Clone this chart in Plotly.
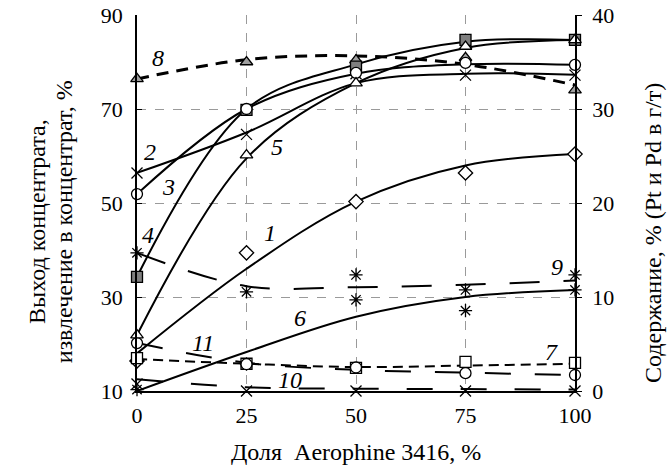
import plotly.graph_objects as go

FONT = "Liberation Serif, Times New Roman, serif"
GRID = "#9a9a9a"
GREY_SQ = "#7f7f7f"
GREY_TRI = "#a0a0a0"

x = [0, 25, 50, 75, 100]

# markers (values in left-axis units)
m1 = [16.4, 39.4, 50.3, 56.4, 60.4]
m2 = [56.4, 64.6, 77.5, 77.2, 77.2]
m3 = [51.9, 70.0, 77.7, 79.8, 79.4]
m4 = [34.3, 69.8, 79.0, 84.7, 84.7]
m5 = [21.9, 60.2, 75.5, 83.3, 84.7]
m6 = [10.3, 15.7, 29.4, 27.1, 31.5]
m7 = [17.0, 15.8, 14.9, 16.2, 16.0]
m8 = [76.4, 80.0, 80.4, 80.9, 74.0]
m9 = [39.4, 31.1, 34.7, 31.5, 34.7]
m10 = [11.5, 10.0, 10.0, 10.0, 10.0]
m11 = [20.2, 15.7, 15.0, 13.8, 13.4]

# trend lines read at the same x positions
l1 = [18.0, 36.0, 50.3, 58.0, 60.4]
l2 = [56.4, 65.0, 75.5, 77.5, 77.3]
l3 = [51.9, 70.0, 77.5, 79.5, 79.4]
l4 = [34.3, 70.0, 79.5, 84.3, 84.7]
l5 = [21.9, 59.5, 75.5, 83.0, 84.7]
l6 = [10.0, 18.3, 25.8, 30.0, 31.5]
l7 = [16.8, 15.8, 15.1, 15.4, 15.8]
l8 = [76.4, 80.5, 81.3, 79.5, 75.1]
l9 = [39.4, 32.3, 32.1, 32.6, 33.5]
l10 = [12.5, 10.8, 10.5, 10.4, 10.3]
l11 = [20.2, 16.0, 14.5, 13.9, 13.4]

curve_labels = ["8", "2", "3", "5", "4", "1", "6", "11", "10", "9", "7"]
label_x = [4.8, 3.0, 7.1, 32.0, 2.5, 30.4, 37.2, 15.1, 34.9, 95.9, 94.7]
label_y = [80.9, 60.9, 53.4, 61.9, 43.2, 43.6, 25.5, 20.2, 12.3, 36.4, 18.3]

fig = go.Figure()

lines = [
    (l1, "solid", 2), (l2, "solid", 2), (l3, "solid", 2), (l4, "solid", 2),
    (l5, "solid", 2), (l6, "solid", 2), (l7, "10px,6px", 2),
    (l8, "12px,8px", 3), (l9, "30px,24px", 2), (l10, "26px,28px", 2),
    (l11, "26px,24px", 2),
]
for vals, dash, w in lines:
    fig.add_trace(go.Scatter(
        x=x, y=vals, mode="lines", line_shape="spline",
        line=dict(color="black", width=w, dash=dash),
        showlegend=False, hoverinfo="skip",
    ))

markers = [
    (m9, "asterisk-open", "black"),
    (m6, "asterisk-open", "black"),
    (m10, "x-thin-open", "black"),
    (m1, "diamond", "white"),
    (m7, "square", "white"),
    (m11, "circle", "white"),
    (m2, "x-thin-open", "black"),
    (m8, "triangle-up", GREY_TRI),
    (m4, "square", GREY_SQ),
    (m3, "circle", "white"),
    (m5, "triangle-up", "white"),
]
for vals, sym, col in markers:
    fig.add_trace(go.Scatter(
        x=x, y=vals, mode="markers", cliponaxis=False,
        marker=dict(symbol=sym, size=11, color=col,
                    line=dict(color="black", width=1.3)),
        showlegend=False,
    ))

# dummy trace to activate the right axis
fig.add_trace(go.Scatter(x=[None], y=[None], yaxis="y2", showlegend=False))

for t, lx, ly in zip(curve_labels, label_x, label_y):
    fig.add_annotation(x=lx, y=ly, text=t, showarrow=False,
                       font=dict(family=FONT, size=24, color="black",
                                 style="italic"))

title_font = dict(family=FONT, size=24, color="black")
# axis titles placed as annotations
fig.add_annotation(x=-0.228, y=0.45, xref="paper", yref="paper",
                   text="Выход концентрата,", textangle=-90,
                   showarrow=False, xanchor="center", yanchor="middle",
                   font=title_font)
fig.add_annotation(x=-0.168, y=0.45, xref="paper", yref="paper",
                   text="извлечение в концентрат, %", textangle=-90,
                   showarrow=False, xanchor="center", yanchor="middle",
                   font=title_font)
fig.add_annotation(x=1.178, y=0.42, xref="paper", yref="paper",
                   text="Содержание, % (Pt и Pd в г/т)", textangle=-90,
                   showarrow=False, xanchor="center", yanchor="middle",
                   font=title_font)
fig.add_annotation(x=0.5, y=-0.163, xref="paper", yref="paper",
                   text="Доля  Aerophine 3416, %", showarrow=False,
                   xanchor="center", yanchor="middle", font=title_font)

tick_font = dict(family=FONT, size=22, color="black")

fig.update_layout(
    width=670, height=473,
    margin=dict(l=137, r=95, t=15, b=82),
    paper_bgcolor="white", plot_bgcolor="white",
    font=dict(family=FONT, size=22, color="black"),
    xaxis=dict(
        range=[0, 100], tickvals=x, showline=True, linecolor="black",
        linewidth=1.5, showgrid=True, gridcolor=GRID, griddash="dash",
        gridwidth=1.3, zeroline=False, ticks="", automargin=False,
        tickfont=tick_font, ticklabelstandoff=4,
    ),
    yaxis=dict(
        range=[10, 90], tickvals=[10, 30, 50, 70, 90], showline=True,
        linecolor="black", linewidth=1.5, showgrid=True, gridcolor=GRID,
        griddash="dash", gridwidth=1.3, zeroline=False, ticks="inside",
        ticklen=5, tickcolor="black", automargin=False, tickfont=tick_font,
        ticklabelstandoff=8,
    ),
    yaxis2=dict(
        range=[0, 40], tickvals=[0, 10, 20, 30, 40], overlaying="y",
        side="right", showline=True, linecolor="black", linewidth=1.5,
        showgrid=False, zeroline=False, ticks="outside", ticklen=5,
        tickcolor="black", automargin=False, tickfont=tick_font,
        ticklabelstandoff=6,
    ),
)

# drop the default 8px page margin so the figure fills the window
fig.write_html(
    "out.html",
    config={"displayModeBar": False},
    post_script="document.body.style.margin = '0';",
)
